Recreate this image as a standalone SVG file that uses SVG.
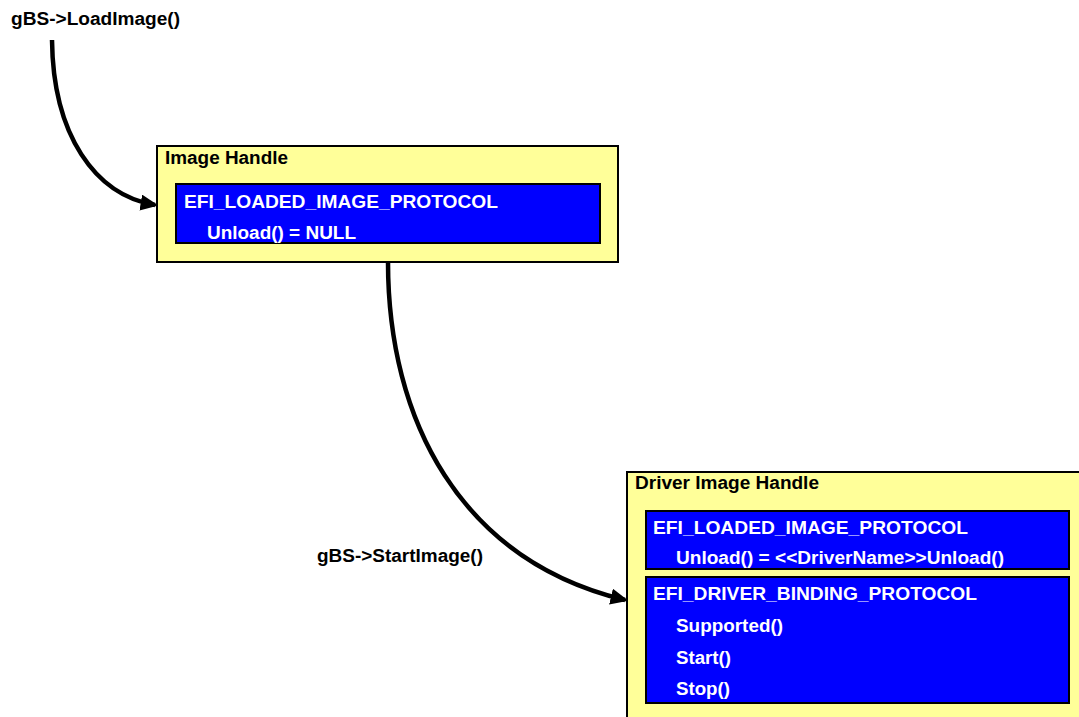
<svg xmlns="http://www.w3.org/2000/svg" width="1079" height="717" viewBox="0 0 1079 717">
  <style>
    text { font-family: "Liberation Sans", Arial, sans-serif; font-weight: bold; font-size: 18px; }
    .label, .title { fill: #000; }
    .proto { fill: #fff; }
    .handle { fill: #ffff99; stroke: #000; stroke-width: 2; }
    .protocol { fill: #0000ff; stroke: #000; stroke-width: 2; }
    .conn { fill: none; stroke: #000; stroke-width: 4.5; }
  </style>
  <defs>
    <marker id="arrow" markerWidth="4" markerHeight="3.6" refX="3.2" refY="1.8" orient="auto" markerUnits="strokeWidth">
      <path d="M0,0 L4,1.8 L0,3.6 Z" fill="#000"/>
    </marker>
  </defs>
  <rect width="1079" height="717" fill="#fff"/>

  <!-- call arrows: LoadImage into the image handle, StartImage into the driver handle -->
  <g id="connectors">
    <path class="conn" d="M52,40 C53,135 95,195 155,205" marker-end="url(#arrow)"/>
    <path class="conn" d="M388,262 C388,420 460,560 625,600" marker-end="url(#arrow)"/>
  </g>

  <g id="load-image-label">
    <text class="label" x="11" y="25" textLength="169" lengthAdjust="spacingAndGlyphs">gBS-&gt;LoadImage()</text>
  </g>
  <g id="start-image-label">
    <text class="label" x="317" y="562" textLength="166" lengthAdjust="spacingAndGlyphs">gBS-&gt;StartImage()</text>
  </g>

  <g id="image-handle">
    <rect class="handle" x="157" y="146" width="461" height="116"/>
    <text class="title" x="165" y="164" textLength="123" lengthAdjust="spacingAndGlyphs">Image Handle</text>
    <rect class="protocol" x="176" y="184" width="424" height="59"/>
    <text class="proto" x="184" y="208" textLength="314" lengthAdjust="spacingAndGlyphs">EFI_LOADED_IMAGE_PROTOCOL</text>
    <text class="proto" x="207" y="239" textLength="149" lengthAdjust="spacingAndGlyphs">Unload() = NULL</text>
  </g>

  <g id="driver-image-handle">
    <rect class="handle" x="627" y="472" width="460" height="260"/>
    <text class="title" x="635" y="489" textLength="184" lengthAdjust="spacingAndGlyphs">Driver Image Handle</text>
    <rect class="protocol" x="646" y="511" width="423" height="58"/>
    <text class="proto" x="653" y="534" textLength="315" lengthAdjust="spacingAndGlyphs">EFI_LOADED_IMAGE_PROTOCOL</text>
    <text class="proto" x="676" y="564" textLength="328" lengthAdjust="spacingAndGlyphs">Unload() = &lt;&lt;DriverName&gt;&gt;Unload()</text>
    <rect class="protocol" x="646" y="577" width="423" height="126"/>
    <text class="proto" x="653" y="600" textLength="324" lengthAdjust="spacingAndGlyphs">EFI_DRIVER_BINDING_PROTOCOL</text>
    <text class="proto" x="676" y="632" textLength="107" lengthAdjust="spacingAndGlyphs">Supported()</text>
    <text class="proto" x="676" y="664" textLength="55" lengthAdjust="spacingAndGlyphs">Start()</text>
    <text class="proto" x="676" y="695" textLength="54" lengthAdjust="spacingAndGlyphs">Stop()</text>
  </g>
</svg>
